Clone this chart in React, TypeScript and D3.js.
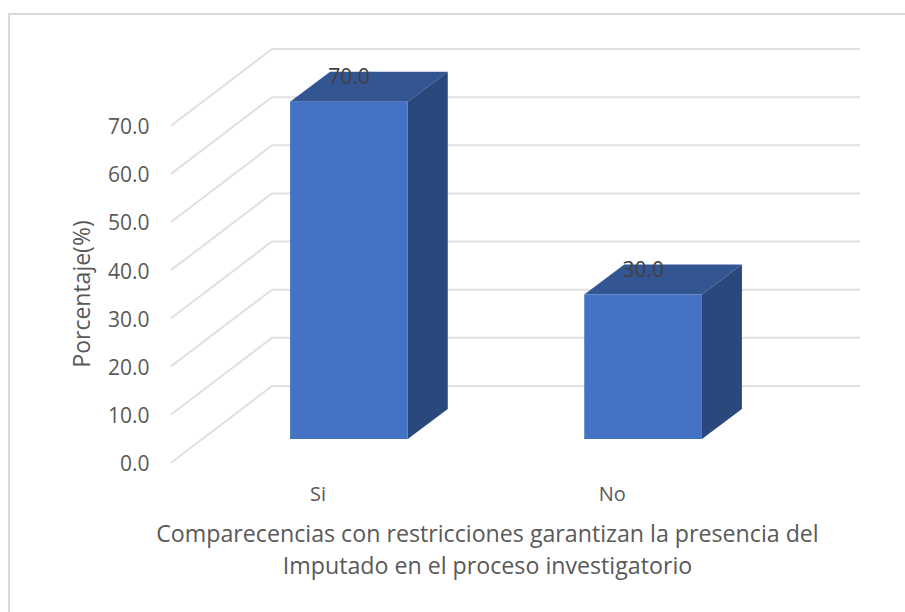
import React from "react";
import * as d3 from "d3";

const categories = ["Si", "No"];
const values = [70, 30];
const labels = ["70.0", "30.0"];
const ticks = [0, 10, 20, 30, 40, 50, 60, 70];
const xTitle = ["Comparecencias con restricciones garantizan la presencia del", "Imputado en el proceso investigatorio"];
const yTitle = "Porcentaje(%)";

const FONT = "'Open Sans', sans-serif";

export default function App() {
  const yBar = d3.scaleLinear().domain([0, 70]).range([439, 101.7]);
  const yFront = d3.scaleLinear().domain([0, 70]).range([462.7, 125.7]);
  const yBack = d3.scaleLinear().domain([0, 70]).range([386, 49]);
  const x = d3.scaleBand().domain(categories).range([143, 849]).paddingInner(0.6).paddingOuter(0.5);
  const depthX = 40;
  const depthY = 30;
  const line = d3.line();
  const poly = (pts: [number, number][]) => line(pts) + "Z";
  return (
    <svg width={905} height={612} style={{ position: "absolute", left: 0, top: 0, background: "#fff" }}>
      <path d="M9 612V14H905" fill="none" stroke="#d9d9d9" strokeWidth={2} />
      {ticks.map((t) => (
        <g key={t}>
          <path
            d={line([[171, yFront(t)], [272, yBack(t)], [860, yBack(t)]]) as string}
            fill="none"
            stroke="#e0e0e0"
            strokeWidth={2}
          />
          <text x={149.5} y={yFront(t) + 8.5} textAnchor="end" fontFamily={FONT} fontSize={21} fill="#595959">
            {t.toFixed(1)}
          </text>
        </g>
      ))}
      {categories.map((c, i) => {
        const x0 = x(c) as number;
        const x1 = x0 + x.bandwidth();
        const top = yBar(values[i]);
        const bot = yBar(0);
        return (
          <g key={c}>
            <path d={poly([[x0, top], [x0 + depthX, top - depthY], [x1 + depthX, top - depthY], [x1, top]])} fill="#335693" />
            <path d={poly([[x1, top], [x1 + depthX, top - depthY], [x1 + depthX, bot - depthY], [x1, bot]])} fill="#2a487c" />
            <rect x={x0} y={top} width={x1 - x0} height={bot - top} fill="#4472c4" />
            <text x={x0 + 59} y={top - 17.5} textAnchor="middle" fontFamily={FONT} fontSize={21} fill="#404040">
              {labels[i]}
            </text>
            <text x={x0 + 28} y={500.5} textAnchor="middle" fontFamily={FONT} fontSize={20} fill="#595959">
              {c}
            </text>
          </g>
        );
      })}
      <text transform="translate(89.5,294) rotate(-90)" textAnchor="middle" fontFamily={FONT} fontSize={23} fill="#595959">
        {yTitle}
      </text>
      {xTitle.map((s, i) => (
        <text key={i} x={487.5} y={542 + i * 32} textAnchor="middle" fontFamily={FONT} fontSize={23.2} fill="#595959">
          {s}
        </text>
      ))}
    </svg>
  );
}
